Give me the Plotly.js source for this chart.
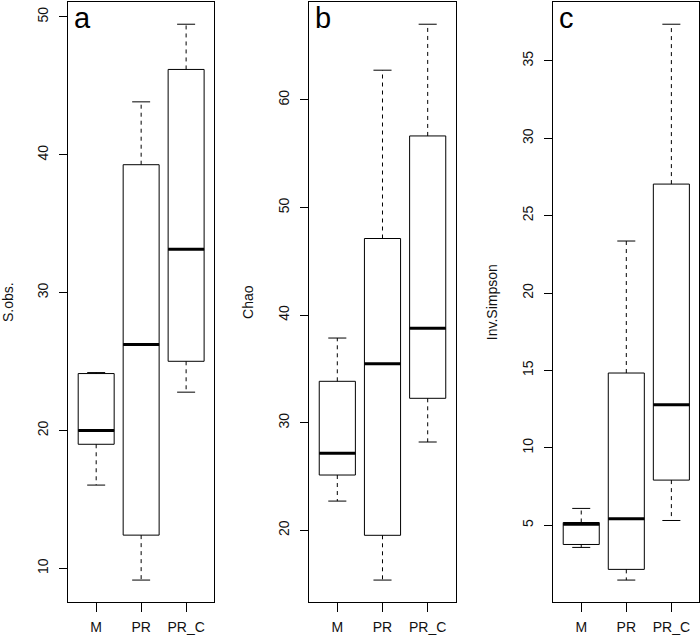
<!DOCTYPE html>
<html>
<head>
<meta charset="utf-8">
<script src="https://cdn.plot.ly/plotly-3.0.1.min.js"></script>
<style>html,body{margin:0;padding:0;background:#fff;}#chart{width:700px;height:637px;}</style>
</head>
<body>
<div id="chart"></div>
<script>
// Categories
const categories = ['M', 'PR', 'PR_C'];

// Panel a: S.obs.
const sobsLow = [16.04, 9.15, 22.78];
const sobsQ1 = [19.0, 12.41, 25.02];
const sobsMed = [20.0, 26.23, 33.14];
const sobsQ3 = [24.13, 39.28, 46.19];
const sobsHigh = [24.2, 43.84, 49.47];

// Panel b: Chao
const chaoLow = [22.72, 15.38, 28.21];
const chaoQ1 = [25.14, 19.54, 32.27];
const chaoMed = [27.16, 35.48, 38.77];
const chaoQ3 = [33.85, 47.12, 56.65];
const chaoHigh = [37.87, 62.76, 67.03];

// Panel c: Inv.Simpson
const invLow = [3.56, 1.45, 5.30];
const invQ1 = [3.75, 2.14, 7.91];
const invMed = [5.05, 5.41, 12.78];
const invQ3 = [5.17, 14.83, 27.04];
const invHigh = [6.08, 23.36, 37.37];

const panels = [
  {letter: 'a', title: 'S.obs.', low: sobsLow, q1: sobsQ1, med: sobsMed, q3: sobsQ3, high: sobsHigh, dtick: 10},
  {letter: 'b', title: 'Chao', low: chaoLow, q1: chaoQ1, med: chaoMed, q3: chaoQ3, high: chaoHigh, dtick: 10},
  {letter: 'c', title: 'Inv.Simpson', low: invLow, q1: invQ1, med: invMed, q3: invQ3, high: invHigh, dtick: 5}
];

const W = 700, H = 637;
const xDomains = [[68.3 / W, 214 / W], [309.3 / W, 455.7 / W], [553.3 / W, 699.3 / W]];
const yDomain = [(H - 602.3) / H, (H - 2) / H];
const pos = categories.map((c, i) => i + 1);
const boxW = 0.8, capW = 0.4;
const FONT = 'Liberation Sans, Arial, Helvetica, sans-serif';

const traces = [];
const layout = {
  width: W, height: H,
  margin: {l: 0, r: 0, t: 0, b: 0},
  paper_bgcolor: '#fff', plot_bgcolor: '#fff',
  showlegend: false,
  font: {family: FONT, size: 14, color: '#000'},
  annotations: []
};

panels.forEach((p, k) => {
  const xa = 'x' + (k === 0 ? '' : k + 1);
  const ya = 'y' + (k === 0 ? '' : k + 1);
  // boxes
  traces.push({
    type: 'box', x: pos, q1: p.q1, median: p.med, q3: p.q3,
    lowerfence: p.q1, upperfence: p.q3, width: boxW, whiskerwidth: 0,
    fillcolor: '#fff', line: {color: '#000', width: 1},
    xaxis: xa, yaxis: ya, hoverinfo: 'skip', boxpoints: false
  });
  // dashed whiskers
  const wx = [], wy = [];
  pos.forEach((x, i) => {
    wx.push(x, x, null, x, x, null);
    wy.push(p.q3[i], p.high[i], null, p.q1[i], p.low[i], null);
  });
  traces.push({type: 'scatter', mode: 'lines', x: wx, y: wy, xaxis: xa, yaxis: ya,
    line: {color: '#000', width: 1, dash: '4px,4px'}, hoverinfo: 'skip', connectgaps: false});
  // caps
  const cx = [], cy = [];
  pos.forEach((x, i) => {
    cx.push(x - capW / 2, x + capW / 2, null, x - capW / 2, x + capW / 2, null);
    cy.push(p.high[i], p.high[i], null, p.low[i], p.low[i], null);
  });
  traces.push({type: 'scatter', mode: 'lines', x: cx, y: cy, xaxis: xa, yaxis: ya,
    line: {color: '#000', width: 1}, hoverinfo: 'skip', connectgaps: false});
  // medians
  const mx = [], my = [];
  pos.forEach((x, i) => {
    mx.push(x - boxW / 2, x + boxW / 2, null);
    my.push(p.med[i], p.med[i], null);
  });
  traces.push({type: 'scatter', mode: 'lines', x: mx, y: my, xaxis: xa, yaxis: ya,
    line: {color: '#000', width: 3}, hoverinfo: 'skip', connectgaps: false});

  const lo = Math.min(...p.low), hi = Math.max(...p.high);
  const pad = (hi - lo) * 0.04;
  const n = categories.length;
  const xpad = n * 0.04;

  layout['xaxis' + (k === 0 ? '' : k + 1)] = {
    domain: xDomains[k], anchor: ya, range: [0.5 - xpad, n + 0.5 + xpad],
    tickmode: 'array', tickvals: pos, ticktext: categories,
    showgrid: false, zeroline: false, showline: true, mirror: true,
    linecolor: '#000', linewidth: 1, ticks: 'outside', ticklen: 9, tickcolor: '#000', tickwidth: 1,
    ticklabelstandoff: 3,
    tickfont: {family: FONT, size: 14, color: '#111'}, fixedrange: true
  };
  layout['yaxis' + (k === 0 ? '' : k + 1)] = {
    domain: yDomain, anchor: xa, range: [lo - pad, hi + pad],
    tick0: 0, dtick: p.dtick,
    showgrid: false, zeroline: false, showline: true, mirror: true,
    linecolor: '#000', linewidth: 1, ticks: 'outside', ticklen: 8, tickcolor: '#000', tickwidth: 1,
    ticklabelstandoff: 6,
    tickangle: -90, tickfont: {family: FONT, size: 14, color: '#111'},
    title: {text: p.title, font: {family: FONT, size: 14, color: '#111'}, standoff: 18},
    fixedrange: true
  };
  layout.annotations.push({
    text: p.letter, xref: xa + ' domain', yref: ya + ' domain', x: 0, y: 1,
    xanchor: 'left', yanchor: 'top', xshift: 4, yshift: 2, showarrow: false,
    font: {family: FONT, size: 29, color: '#000'}
  });
});

Plotly.newPlot('chart', traces, layout, {displayModeBar: false, staticPlot: true});
</script>
</body>
</html>
